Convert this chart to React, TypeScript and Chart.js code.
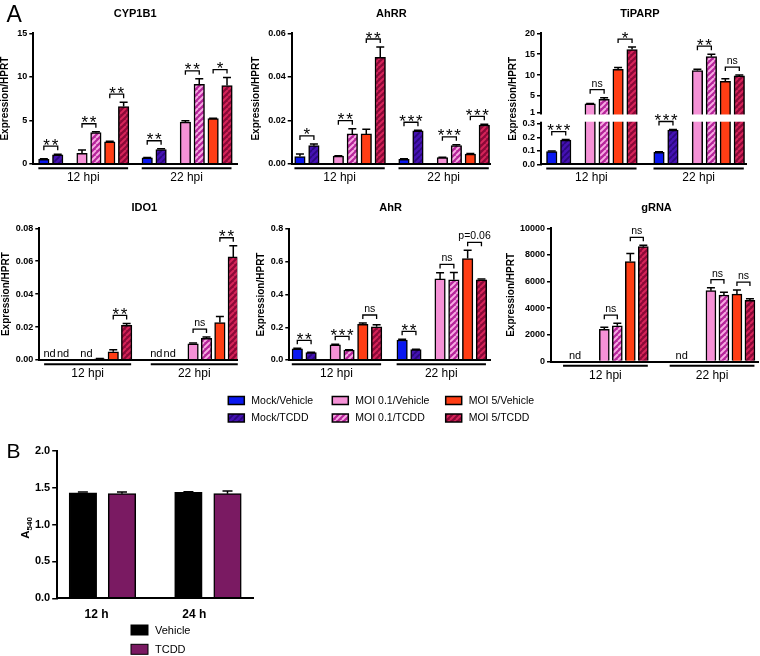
import React, { useEffect, useRef } from 'react';
import { Chart, registerables, LinearScale } from 'chart.js';

Chart.register(...registerables);

const FONT = "'Liberation Sans', Arial, Helvetica, sans-serif";
const W = 760;
const H = 656;
Chart.defaults.font.family = FONT;
Chart.defaults.color = '#000';

// ---------------- Panel A data ----------------
const SERIES = ['Mock/Vehicle', 'Mock/TCDD', 'MOI 0.1/Vehicle', 'MOI 0.1/TCDD', 'MOI 5/Vehicle', 'MOI 5/TCDD'];
const TIMES = ['12 hpi', '22 hpi'];
const Y_LABEL = 'Expression/HPRT';

// 12 values each: 6 series at 12 hpi, then 6 series at 22 hpi (null = nd)
const cyp1b1Mean = [0.55, 1.05, 1.22, 3.6, 2.55, 6.6, 0.7, 1.65, 4.8, 9.13, 5.2, 9.0];
const cyp1b1Err = [0.05, 0.08, 0.38, 0.1, 0.05, 0.5, 0.04, 0.1, 0.15, 0.64, 0.04, 0.92];
const cyp1b1Sig = ['**', '**', '**', '**', '**', '*'];

const ahrrMean = [0.0034, 0.0084, 0.0036, 0.0138, 0.0138, 0.049, 0.0022, 0.0152, 0.0029, 0.0084, 0.0045, 0.0179];
const ahrrErr = [0.0012, 0.0008, 0.0002, 0.0024, 0.0022, 0.0047, 0.0002, 0.0003, 0.0002, 0.0004, 0.0003, 0.0003];
const ahrrSig = ['*', '**', '**', '***', '***', '***'];

const tiparpMean = [0.095, 0.18, 3.1, 4.2, 11.4, 16.1, 0.09, 0.255, 11.1, 14.4, 8.5, 9.8];
const tiparpErr = [0.004, 0.004, 0.1, 0.4, 0.4, 0.6, 0.004, 0.004, 0.3, 0.6, 0.6, 0.2];
const tiparpSig = ['***', 'ns', '*', '***', '**', 'ns'];
const tiparpTicks = [0, 0.1, 0.2, 0.3, 1, 5, 10, 15, 20];
const tiparpBreak = { lowMax: 0.3, highMin: 1, lowFrac: 0.3076, highFrac: 0.394 };

const ido1Mean = [null, null, null, 0.0007, 0.005, 0.021, null, null, 0.0098, 0.0131, 0.0228, 0.0626];
const ido1Err = [0, 0, 0, 0.0002, 0.0013, 0.0012, 0, 0, 0.0005, 0.0008, 0.0036, 0.0068];
const ido1Sig = [null, null, '**', null, 'ns', '**'];
const ido1Nd = [0, 1, 2, 6, 7];

const ahrMean = [0.068, 0.046, 0.092, 0.06, 0.218, 0.203, 0.122, 0.063, 0.495, 0.49, 0.62, 0.49];
const ahrErr = [0.003, 0.002, 0.004, 0.003, 0.008, 0.013, 0.004, 0.002, 0.038, 0.045, 0.05, 0.004];
const ahrSig = ['**', '***', 'ns', '**', 'ns', 'p=0.06'];

const grnaMean = [null, null, 2420, 2680, 7500, 8620, null, null, 5320, 4990, 5060, 4600];
const grnaErr = [0, 0, 150, 200, 600, 100, 0, 0, 220, 200, 300, 120];
const grnaSig = [null, 'ns', 'ns', null, 'ns', 'ns'];
const grnaNd = [0.5, 6.5];

// ---------------- Panel B data ----------------
const cellTimes = ['12 h', '24 h'];
const cellSeries = ['Vehicle', 'TCDD'];
const cellVehicleMean = [1.43, 1.435];
const cellVehicleErr = [0.012, 0.01];
const cellTcddMean = [1.418, 1.418];
const cellTcddErr = [0.022, 0.035];

// ---------------- layout ----------------
const SLOT = [0, 1, 2.75, 3.75, 4.75, 5.75];

type Geo = { L: number; R: number; T: number; B: number; yTitleX: number; min: number; max: number; gap: number; tdx: number; tY: number; barW: number };

const GEO: Record<string, Geo> = {
  cyp: { L: 33.3, R: 237, T: 33.3, B: 164, yTitleX: 5.5, min: -0.76, max: 13.92, gap: 7.45, tdx: 0, tY: 14, barW: 10.5 },
  ahrr: { L: 291.7, R: 491, T: 33.3, B: 164, yTitleX: 256.7, min: -0.59, max: 13.68, gap: 7.45, tdx: 0, tY: 14, barW: 10.5 },
  tiparp: { L: 541, R: 746.7, T: 33.3, B: 164.3, yTitleX: 513.3, min: -0.77, max: 13.96, gap: 7.68, tdx: -4, tY: 14, barW: 10.5 },
  ido1: { L: 39.3, R: 237.3, T: 228.3, B: 360, yTitleX: 5.8, min: -0.77, max: 14.01, gap: 7.96, tdx: 6, tY: 207.5, barW: 10.5 },
  ahr: { L: 289.3, R: 490, T: 229, B: 360, yTitleX: 261.7, min: -0.58, max: 13.97, gap: 7.6, tdx: 1, tY: 207.5, barW: 10.5 },
  grna: { L: 551, R: 758, T: 228.3, B: 361.5, yTitleX: 511.7, min: -1.35, max: 14.57, gap: 8.2, tdx: 2, tY: 207.5, barW: 10 },
};

type Gene = {
  key: string; title: string; mean: (number | null)[]; err: number[]; sig: (string | null)[]; nd: number[];
  yMax: number; yStep: number; dec: number; broken?: boolean;
};

const GENES: Gene[] = [
  { key: 'cyp', title: 'CYP1B1', mean: cyp1b1Mean, err: cyp1b1Err, sig: cyp1b1Sig, nd: [], yMax: 15, yStep: 5, dec: 0 },
  { key: 'ahrr', title: 'AhRR', mean: ahrrMean, err: ahrrErr, sig: ahrrSig, nd: [], yMax: 0.06, yStep: 0.02, dec: 2 },
  { key: 'tiparp', title: 'TiPARP', mean: tiparpMean, err: tiparpErr, sig: tiparpSig, nd: [], yMax: 20, yStep: 5, dec: 1, broken: true },
  { key: 'ido1', title: 'IDO1', mean: ido1Mean, err: ido1Err, sig: ido1Sig, nd: ido1Nd, yMax: 0.08, yStep: 0.02, dec: 2 },
  { key: 'ahr', title: 'AhR', mean: ahrMean, err: ahrErr, sig: ahrSig, nd: [], yMax: 0.8, yStep: 0.2, dec: 1 },
  { key: 'grna', title: 'gRNA', mean: grnaMean, err: grnaErr, sig: grnaSig, nd: grnaNd, yMax: 10000, yStep: 2000, dec: 0 },
];

const CELL_POS = [[0, 2.7], [1, 3.7]];
const CELL_LABEL_POS = [0.35, 2.85];
const CELL_GEO = { L: 56.7, R: 253.3, T: 450.7, B: 598.3, min: -0.67, max: 4.36 };

// --------------- broken axis scale ---------------
class BrokenScale extends LinearScale {
  static id = 'broken';
  getPixelForValue(value: any) {
    if (value === null || value === undefined || isNaN(value)) return NaN;
    const b = tiparpBreak;
    let d: number;
    if (value <= b.lowMax) d = (value / b.lowMax) * b.lowFrac;
    else if (value >= b.highMin) d = b.highFrac + ((value - b.highMin) / ((this as any).max - b.highMin)) * (1 - b.highFrac);
    else d = b.lowFrac + ((value - b.lowMax) / (b.highMin - b.lowMax)) * (b.highFrac - b.lowFrac);
    return (this as any).getPixelForDecimal(d);
  }
  buildTicks() {
    return tiparpTicks.map((v) => ({ value: v }));
  }
}
Chart.register(BrokenScale as any);

function makeHatch(base: string, stripe: string, lw: number, s: number) {
  const c = document.createElement('canvas');
  c.width = s;
  c.height = s;
  const x = c.getContext('2d')!;
  x.fillStyle = base;
  x.fillRect(0, 0, s, s);
  x.strokeStyle = stripe;
  x.lineWidth = lw;
  x.beginPath();
  for (const o of [-s, 0, s]) {
    x.moveTo(o, s);
    x.lineTo(o + s, 0);
  }
  x.stroke();
  return x.createPattern(c, 'repeat')!;
}

function makeFills(): any[] {
  return [
    '#0A18F0',
    makeHatch('#4512B2', '#2A077C', 1.8, 6),
    '#F591D6',
    makeHatch('#B5249A', '#F7A9E2', 2, 6),
    '#FF3D14',
    makeHatch('#8A0837', '#D52459', 2, 6),
  ];
}

function drawSigText(ctx: CanvasRenderingContext2D, s: string, cx: number, by: number) {
  ctx.fillStyle = '#000';
  ctx.textAlign = 'center';
  ctx.textBaseline = 'alphabetic';
  if (/^\*+$/.test(s)) {
    ctx.font = `17px ${FONT}`;
    const n = s.length;
    const sp = 8.3;
    for (let j = 0; j < n; j++) ctx.fillText('*', cx + (j - (n - 1) / 2) * sp, by + 4.5);
  } else {
    ctx.font = `10.5px ${FONT}`;
    ctx.fillText(s, cx, by - 3);
  }
}

function drawLegendA(ctx: CanvasRenderingContext2D, fills: any[]) {
  const cols = [228.3, 332.3, 445.7];
  const rows = [400.5, 418];
  SERIES.forEach((name, i) => {
    const x = cols[Math.floor(i / 2)];
    const y = rows[i % 2];
    ctx.fillStyle = fills[i];
    ctx.fillRect(x, y - 4, 16, 8);
    ctx.strokeStyle = '#000';
    ctx.lineWidth = 1.5;
    ctx.strokeRect(x, y - 4, 16, 8);
    ctx.fillStyle = '#000';
    ctx.font = `10.5px ${FONT}`;
    ctx.textAlign = 'left';
    ctx.textBaseline = 'middle';
    ctx.fillText(name, x + 23, y + 0.5);
  });
}

function geneConfig(g: Gene, fills: any[]): any {
  const geo = GEO[g.key];
  const pos = (i: number) => (i < 6 ? SLOT[i] : geo.gap + SLOT[i - 6]);
  const posF = (f: number) => {
    const a = Math.floor(f);
    const b = Math.ceil(f);
    return pos(a) + (f - a) * (pos(b) - pos(a));
  };
  const points: any[] = [];
  const colors: any[] = [];
  g.mean.forEach((v, i) => {
    if (v !== null) {
      points.push({ x: pos(i), y: v });
      colors.push(fills[i % 6]);
    }
  });
  const yW = geo.L - (geo.yTitleX - 6);

  const decor = {
    id: 'decor-' + g.key,
    afterDraw(chart: any) {
      const ctx: CanvasRenderingContext2D = chart.ctx;
      const a = chart.chartArea;
      const xs = chart.scales.x;
      const ys = chart.scales.y;
      const px = (p: number) => xs.getPixelForValue(p);
      const py = (v: number) => ys.getPixelForValue(v);
      ctx.save();
      if (g.broken) {
        const y1 = py(tiparpBreak.highMin) + 1.8;
        const y2 = py(tiparpBreak.lowMax) - 2.3;
        ctx.fillStyle = '#fff';
        ctx.fillRect(a.left - 2, y1, a.right - a.left + 4, y2 - y1);
      }
      // error bars
      ctx.strokeStyle = '#000';
      ctx.lineWidth = 1.5;
      g.mean.forEach((v, i) => {
        const e = g.err[i];
        if (v === null || !e) return;
        const x = px(pos(i));
        const y0 = py(v);
        const y1 = py(v + e);
        ctx.beginPath();
        ctx.moveTo(x, y0);
        ctx.lineTo(x, y1);
        ctx.moveTo(x - 4, y1);
        ctx.lineTo(x + 4, y1);
        ctx.stroke();
      });
      // significance brackets
      g.sig.forEach((s, k) => {
        if (!s) return;
        const i1 = 2 * k;
        const i2 = 2 * k + 1;
        const t1 = py((g.mean[i1] ?? 0) + g.err[i1]);
        const t2 = py((g.mean[i2] ?? 0) + g.err[i2]);
        const y = Math.min(t1, t2) - 8;
        const x1 = px(pos(i1));
        const x2 = px(pos(i2));
        ctx.strokeStyle = '#000';
        ctx.lineWidth = 1.3;
        ctx.beginPath();
        ctx.moveTo(x1, y + 4);
        ctx.lineTo(x1, y);
        ctx.lineTo(x2, y);
        ctx.lineTo(x2, y + 4);
        ctx.stroke();
        drawSigText(ctx, s, (x1 + x2) / 2, y);
      });
      // time group lines
      TIMES.forEach((t, k) => {
        const x1 = px(pos(6 * k)) - 5.5;
        const x2 = px(pos(6 * k + 5)) + 4.5;
        const y = a.bottom + 4.2;
        ctx.strokeStyle = '#000';
        ctx.lineWidth = 2;
        ctx.beginPath();
        ctx.moveTo(x1, y);
        ctx.lineTo(x2, y);
        ctx.stroke();
        ctx.fillStyle = '#000';
        ctx.font = `12px ${FONT}`;
        ctx.textAlign = 'center';
        ctx.textBaseline = 'alphabetic';
        ctx.fillText(t, (x1 + x2) / 2, a.bottom + 17);
      });
      // nd labels
      ctx.font = `11px ${FONT}`;
      ctx.textAlign = 'center';
      ctx.textBaseline = 'alphabetic';
      g.nd.forEach((f) => ctx.fillText('nd', px(posF(f)), a.bottom - 3));
      // panel title
      ctx.font = `bold 11px ${FONT}`;
      ctx.textBaseline = 'middle';
      ctx.fillText(g.title, (a.left + a.right) / 2 + geo.tdx, geo.tY);
      if (g.key === 'cyp') {
        ctx.font = `23px ${FONT}`;
        ctx.textAlign = 'left';
        ctx.textBaseline = 'alphabetic';
        ctx.fillText('A', 6.5, 21.7);
      }
      if (g.key === 'ahr') drawLegendA(ctx, fills);
      ctx.restore();
    },
  };

  const tickFont = { family: FONT, size: 9, weight: 'bold' as const };
  return {
    type: 'bar',
    data: {
      datasets: [
        {
          data: points,
          backgroundColor: colors,
          borderColor: '#000',
          borderWidth: 1.5,
          barThickness: geo.barW,
          borderSkipped: 'start',
        },
      ],
    },
    options: {
      animation: false,
      responsive: false,
      events: [],
      layout: { padding: { left: geo.L - yW, top: geo.T, right: W - geo.R, bottom: H - geo.B } },
      plugins: { legend: { display: false }, tooltip: { enabled: false }, title: { display: false } },
      scales: {
        x: {
          type: 'linear',
          min: geo.min,
          max: geo.max,
          offset: false,
          ticks: { display: false },
          grid: { display: false },
          border: { display: true, color: '#000', width: 2, z: 1 },
          afterFit: (s: any) => {
            s.height = 0;
          },
        },
        y: {
          type: g.broken ? 'broken' : 'linear',
          min: 0,
          max: g.yMax,
          ticks: {
            stepSize: g.yStep,
            autoSkip: false,
            padding: 2,
            color: '#000',
            font: tickFont,
            callback: (v: any) => {
              const n = Number(v);
              if (g.broken) return n < 1 ? n.toFixed(1) : String(n);
              return n.toFixed(g.dec);
            },
          },
          grid: { display: true, drawOnChartArea: false, drawTicks: true, tickLength: 4, tickWidth: 1.5, lineWidth: 1.5, tickColor: '#000', color: '#000' },
          border: { display: true, color: '#000', width: 2, z: 1 },
          title: { display: true, text: Y_LABEL, color: '#000', padding: 0, font: { family: FONT, size: 10, weight: 'bold' } },
          afterFit: (s: any) => {
            s.width = yW;
          },
        },
      },
    },
    plugins: [decor],
  };
}

function cellConfig(): any {
  const cellColors = ['#000000', '#7A1A62'];
  const means = [cellVehicleMean, cellTcddMean];
  const errs = [cellVehicleErr, cellTcddErr];
  const points: any[] = [];
  const colors: any[] = [];
  means.forEach((arr, s) =>
    arr.forEach((v, t) => {
      points.push({ x: CELL_POS[s][t], y: v });
      colors.push(cellColors[s]);
    })
  );
  const yW = 40;
  const xH = 25;
  const decor = {
    id: 'decor-cell',
    afterDraw(chart: any) {
      const ctx: CanvasRenderingContext2D = chart.ctx;
      const xs = chart.scales.x;
      const ys = chart.scales.y;
      ctx.save();
      ctx.strokeStyle = '#000';
      ctx.lineWidth = 1.5;
      means.forEach((arr, s) =>
        arr.forEach((v, t) => {
          const x = xs.getPixelForValue(CELL_POS[s][t]);
          const y0 = ys.getPixelForValue(v);
          const y1 = ys.getPixelForValue(v + errs[s][t]);
          ctx.beginPath();
          ctx.moveTo(x, y0);
          ctx.lineTo(x, y1);
          ctx.moveTo(x - 5, y1);
          ctx.lineTo(x + 5, y1);
          ctx.stroke();
        })
      );
      // panel letter
      ctx.fillStyle = '#000';
      ctx.font = `21px ${FONT}`;
      ctx.textAlign = 'left';
      ctx.textBaseline = 'alphabetic';
      ctx.fillText('B', 6.5, 458);
      // y title A540
      ctx.save();
      ctx.translate(25, 528);
      ctx.rotate(-Math.PI / 2);
      ctx.font = `bold 11.5px ${FONT}`;
      const wA = ctx.measureText('A').width;
      ctx.font = `bold 8px ${FONT}`;
      const wS = ctx.measureText('540').width;
      const x0 = -(wA + wS) / 2;
      ctx.font = `bold 11.5px ${FONT}`;
      ctx.fillText('A', x0, 4);
      ctx.font = `bold 8px ${FONT}`;
      ctx.fillText('540', x0 + wA, 7);
      ctx.restore();
      // legend
      const rows = [630, 649.3];
      cellSeries.forEach((name, s) => {
        const y = rows[s];
        ctx.fillStyle = cellColors[s];
        ctx.fillRect(131, y - 5, 17, 10);
        ctx.strokeStyle = '#000';
        ctx.lineWidth = 1;
        ctx.strokeRect(131, y - 5, 17, 10);
        ctx.fillStyle = '#000';
        ctx.font = `11px ${FONT}`;
        ctx.textAlign = 'left';
        ctx.textBaseline = 'middle';
        ctx.fillText(name, 155, y + 0.5);
      });
      ctx.restore();
    },
  };
  return {
    type: 'bar',
    data: {
      datasets: [
        { data: points, backgroundColor: colors, borderColor: '#000', borderWidth: 1.5, barThickness: 27.5, borderSkipped: 'start' },
      ],
    },
    options: {
      animation: false,
      responsive: false,
      events: [],
      layout: { padding: { left: CELL_GEO.L - yW, top: CELL_GEO.T, right: W - CELL_GEO.R, bottom: H - CELL_GEO.B - xH } },
      plugins: { legend: { display: false }, tooltip: { enabled: false }, title: { display: false } },
      scales: {
        x: {
          type: 'linear',
          min: CELL_GEO.min,
          max: CELL_GEO.max,
          offset: false,
          afterBuildTicks: (s: any) => {
            s.ticks = CELL_LABEL_POS.map((v) => ({ value: v }));
          },
          ticks: {
            autoSkip: false,
            maxRotation: 0,
            padding: 1,
            color: '#000',
            font: { family: FONT, size: 12, weight: 'bold' },
            callback: (_v: any, i: number) => cellTimes[i],
          },
          grid: { display: false },
          border: { display: true, color: '#000', width: 2, z: 1 },
          afterFit: (s: any) => {
            s.height = xH;
          },
        },
        y: {
          type: 'linear',
          min: 0,
          max: 2,
          ticks: {
            stepSize: 0.5,
            autoSkip: false,
            padding: 2,
            color: '#000',
            font: { family: FONT, size: 11, weight: 'bold' },
            callback: (v: any) => Number(v).toFixed(1),
          },
          grid: { display: true, drawOnChartArea: false, drawTicks: true, tickLength: 4.5, tickWidth: 1.5, lineWidth: 1.5, tickColor: '#000', color: '#000' },
          border: { display: true, color: '#000', width: 2, z: 1 },
          afterFit: (s: any) => {
            s.width = yW;
          },
        },
      },
    },
    plugins: [decor],
  };
}

export default function App() {
  const refs = useRef<Array<HTMLCanvasElement | null>>([]);
  useEffect(() => {
    const fills = makeFills();
    const charts: Chart[] = [];
    GENES.forEach((g, i) => {
      const c = refs.current[i];
      if (c) charts.push(new Chart(c, geneConfig(g, fills)));
    });
    const cb = refs.current[GENES.length];
    if (cb) charts.push(new Chart(cb, cellConfig()));
    return () => charts.forEach((ch) => ch.destroy());
  }, []);
  const n = GENES.length + 1;
  return (
    <div style={{ position: 'absolute', left: 0, top: 0, width: W, height: H, background: '#fff', overflow: 'hidden' }}>
      {Array.from({ length: n }).map((_, i) => (
        <canvas
          key={i}
          ref={(el) => {
            refs.current[i] = el;
          }}
          width={W}
          height={H}
          style={{ position: 'absolute', left: 0, top: 0, width: W, height: H }}
        />
      ))}
    </div>
  );
}
